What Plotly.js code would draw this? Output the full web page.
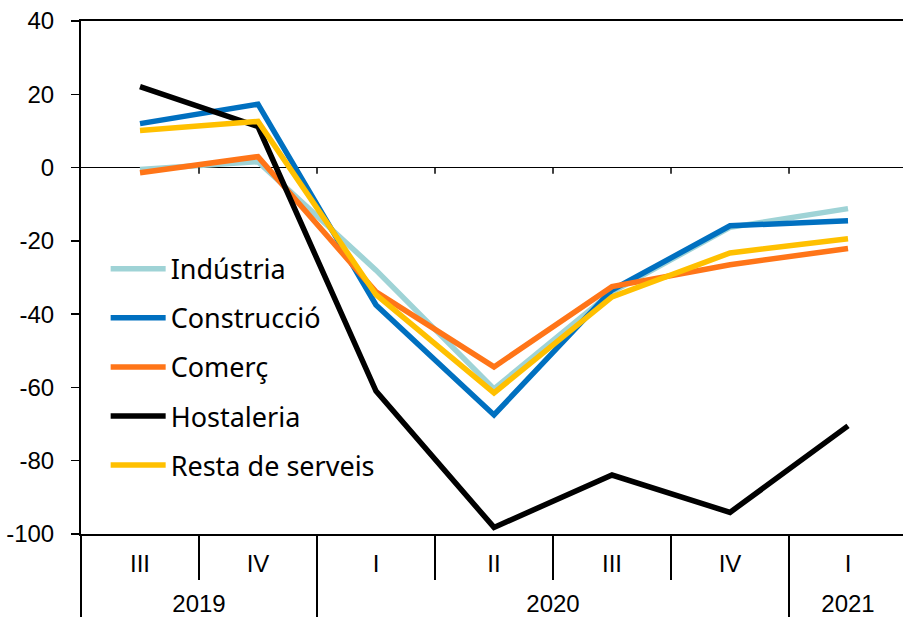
<!DOCTYPE html>
<html>
<head>
<meta charset="utf-8">
<script src="https://cdn.plot.ly/plotly-3.0.1.min.js"></script>
<style>
html,body{margin:0;padding:0;overflow:hidden;background:#fff;}
#chart{width:903px;height:617px;}
</style>
</head>
<body>
<div id="chart"></div>
<script>
// ---- data ----
var years    = ['2019','2019','2020','2020','2020','2020','2021'];
var quarters = ['III','IV','I','II','III','IV','I'];
var seriesNames = ['Indústria','Construcció','Comerç','Hostaleria','Resta de serveis'];
var industria   = [-0.5, 1.6, -28, -60.4, -34, -16.3, -11.2];
var construccio = [12.0, 17.3, -37.5, -67.5, -33.4, -15.9, -14.5];
var comerc      = [-1.4, 3.0, -33.9, -54.4, -32.5, -26.5, -22.1];
var hostaleria  = [22.1, 11.2, -61.0, -98.2, -83.9, -94.1, -70.5];
var resta       = [10.1, 12.6, -34.7, -61.5, -35.3, -23.3, -19.4];
var yTicks = [-100,-80,-60,-40,-20,0,20,40];

var values = [industria, construccio, comerc, hostaleria, resta];
var colors = ['#9fd3d6','#0070c0','#ff7518','#000000','#ffc000'];

function big(s){ return '<span style="font-size:24px">' + s + '</span>'; }

// Plotly orders multicategory inner labels by first appearance; give repeated
// quarter labels a distinct (but identically rendered) key so order is kept.
// A trailing blank line gives the year row more room below the quarter row.
var seenQ = {};
var quarterKeys = quarters.map(function(q){
  var n = seenQ[q] || 0; seenQ[q] = n + 1;
  var s = q;
  for (var i=0;i<n;i++) s = '<span>' + s + '</span>';
  return big(s) + '<br><span style="font-size:8px">&nbsp;</span>';
});
var yearKeys = years.map(big);

var traces = values.map(function(v,i){
  return {
    type:'scatter', mode:'lines',
    x:[yearKeys, quarterKeys], y:v,
    name: seriesNames[i],
    legendgroup: 'g'+i,
    line:{color:colors[i], width:5.5}
  };
});

var xRange = [-0.5, 6.466];
var span = xRange[1]-xRange[0];
var shapes = [];
for (var k=0;k<quarters.length-1;k++){
  var px = (k+0.5 - xRange[0])/span;
  shapes.push({type:'line', xref:'paper', yref:'y', x0:px, x1:px, y0:0, y1:-1.7,
    line:{color:'#000', width:1.5}});
}

var layout = {
  width:903, height:617,
  margin:{l:81, r:0, t:21, b:83},
  paper_bgcolor:'#fff', plot_bgcolor:'#fff',
  showlegend:true,
  legend:{
    x:0.03, y:0.564, xanchor:'left', yanchor:'top',
    font:{family:'Noto Sans', size:27, color:'#000'},
    bgcolor:'rgba(0,0,0,0)',
    tracegroupgap:11,
    itemwidth:55
  },
  xaxis:{
    type:'multicategory',
    range:xRange,
    showline:true, linecolor:'#000', linewidth:2, mirror:true,
    ticks:'outside', tickson:'boundaries', ticklen:44, tickcolor:'#000', tickwidth:1.5,
    showdividers:true, dividercolor:'#000', dividerwidth:1.5,
    ticklabelstandoff:12,
    showgrid:false, zeroline:false,
    tickfont:{family:'Liberation Sans, Arial', size:20, color:'#000'}
  },
  yaxis:{
    range:[-100,40],
    tickvals:yTicks,
    ticktext:yTicks.map(String),
    ticks:'outside', ticklen:8, tickcolor:'#000', tickwidth:1.5,
    ticklabelstandoff:12,
    showline:true, linecolor:'#000', linewidth:2,
    showgrid:false,
    zeroline:true, zerolinecolor:'#000', zerolinewidth:1.5,
    tickfont:{family:'Liberation Sans, Arial', size:24, color:'#000'}
  },
  shapes:shapes
};

Plotly.newPlot('chart', traces, layout, {displayModeBar:false, staticPlot:true});
</script>
</body>
</html>
